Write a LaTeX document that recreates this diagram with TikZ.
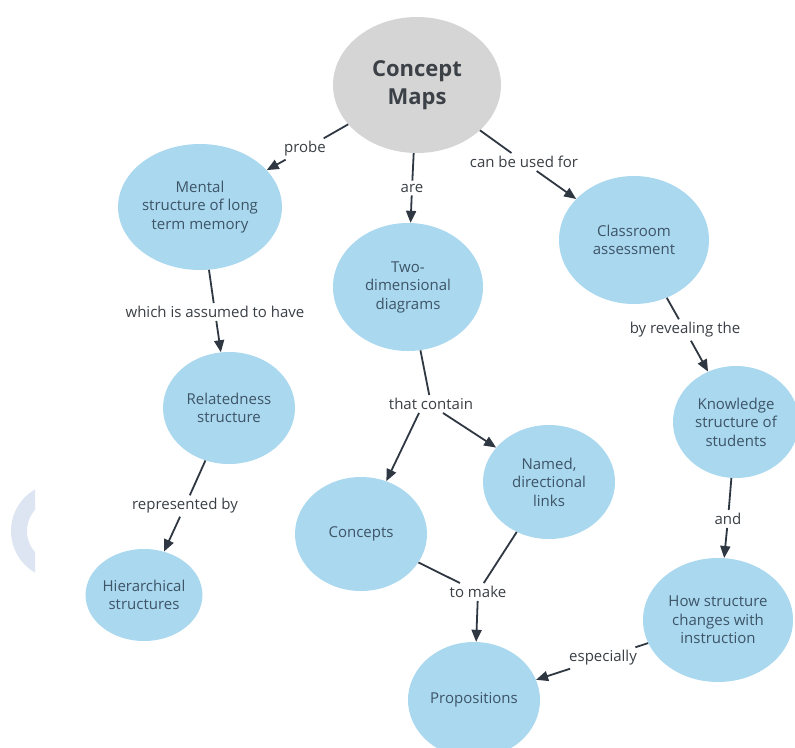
\documentclass[tikz,border=0pt]{standalone}
\usepackage{fontspec}
\setmainfont{Open Sans}
\usetikzlibrary{shapes.geometric,arrows.meta}
\definecolor{nodefill}{HTML}{A9D8EF}
\definecolor{topfill}{HTML}{D5D5D5}
\definecolor{nodetext}{HTML}{3E5467}
\definecolor{titletext}{HTML}{3C4148}
\definecolor{labtext}{HTML}{3A3F45}
\definecolor{linecol}{HTML}{2F3842}
\definecolor{wmark}{HTML}{DCE5F1}
\tikzset{
  concept/.style={ellipse, fill=nodefill, draw=none, inner sep=0pt, align=center,
    text=nodetext, font=\fontsize{15}{18.5}\selectfont},
  lab/.style={text=labtext, font=\fontsize{15}{17}\selectfont, inner sep=3pt},
  link/.style={draw=linecol, line width=1.8pt},
  arr/.style={link, -{Triangle[length=12pt,width=10pt]}}
}
\begin{document}
\begin{tikzpicture}[x=1pt,y=-1pt]
\useasboundingbox (0,0) rectangle (795,747);
\fill[white] (0,0) rectangle (795,747);
% faint watermark crescent
\begin{scope}
  \clip (0,0) rectangle (35,747);
  \fill[wmark, even odd rule] (59,531) circle[radius=48pt] (59,531) circle[radius=32pt];
\end{scope}
% nodes
\node[concept, fill=topfill, text=titletext, font=\bfseries\fontsize{22}{28}\selectfont,
      minimum width=168pt, minimum height=136pt] (cm) at (417,85) {Concept\\Maps};
\node[concept, minimum width=150pt, minimum height=126pt] (mental) at (200,207) {Mental\\structure of long\\term memory};
\node[concept, minimum width=150pt, minimum height=128pt] (two) at (408,287) {Two-\\dimensional\\diagrams};
\node[concept, minimum width=150pt, minimum height=128pt] (class) at (634,240) {Classroom\\assessment};
\node[concept, minimum width=132pt, minimum height=112pt] (rel) at (229,408) {Relatedness\\structure};
\node[concept, minimum width=114pt, minimum height=92pt] (hier) at (144,595) {Hierarchical\\structures};
\node[concept, minimum width=132pt, minimum height=114pt] (concepts) at (361,534) {Concepts};
\node[concept, minimum width=132pt, minimum height=114pt] (named) at (549,482) {Named,\\directional\\links};
\node[concept, minimum width=126pt, minimum height=112pt] (know) at (736,422) {Knowledge\\structure of\\students};
\node[concept, minimum width=150pt, minimum height=124pt] (how) at (718,620) {How structure\\changes with\\instruction};
\node[concept, minimum width=132pt, minimum height=116pt] (prop) at (474,700) {Propositions};
% link labels
\node[lab] (probe) at (305,149) {probe};
\node[lab] (are) at (412,188) {are};
\node[lab] (canbe) at (524,162) {can be used for};
\node[lab] (which) at (215,312) {which is assumed to have};
\node[lab] (repby) at (185,506) {represented by};
\node[lab] (tc) at (431,404) {that contain};
\node[lab] (tomake) at (478,592) {to make};
\node[lab] (byrev) at (685,330) {by revealing the};
\node[lab] (andl) at (728,519) {and};
\node[lab] (esp) at (603,658) {especially};
% connectors
\draw[link] (cm) -- (probe);
\draw[arr] (probe) -- (mental);
\draw[link] (cm) -- (are);
\draw[arr] (are) -- (two);
\draw[link] (cm) -- (canbe);
\draw[arr] (canbe) -- (class);
\draw[link] (mental) -- (which);
\draw[arr] (which) -- (rel);
\draw[link] (rel) -- (repby);
\draw[arr] (repby) -- (hier);
\draw[link] (two) -- (tc);
\draw[arr] ([xshift=-12pt]tc.south) -- (concepts);
\draw[arr] ([xshift=12pt]tc.south) -- (named);
\draw[link] (concepts) -- (tomake);
\draw[link] (named) -- (tomake);
\draw[arr] (tomake) -- (prop);
\draw[link] (class) -- (byrev);
\draw[arr] (byrev) -- (know);
\draw[link] (know) -- (andl);
\draw[arr] (andl) -- (how);
\draw[link] (how) -- (esp);
\draw[arr] (esp) -- (prop);
\end{tikzpicture}
\end{document}
